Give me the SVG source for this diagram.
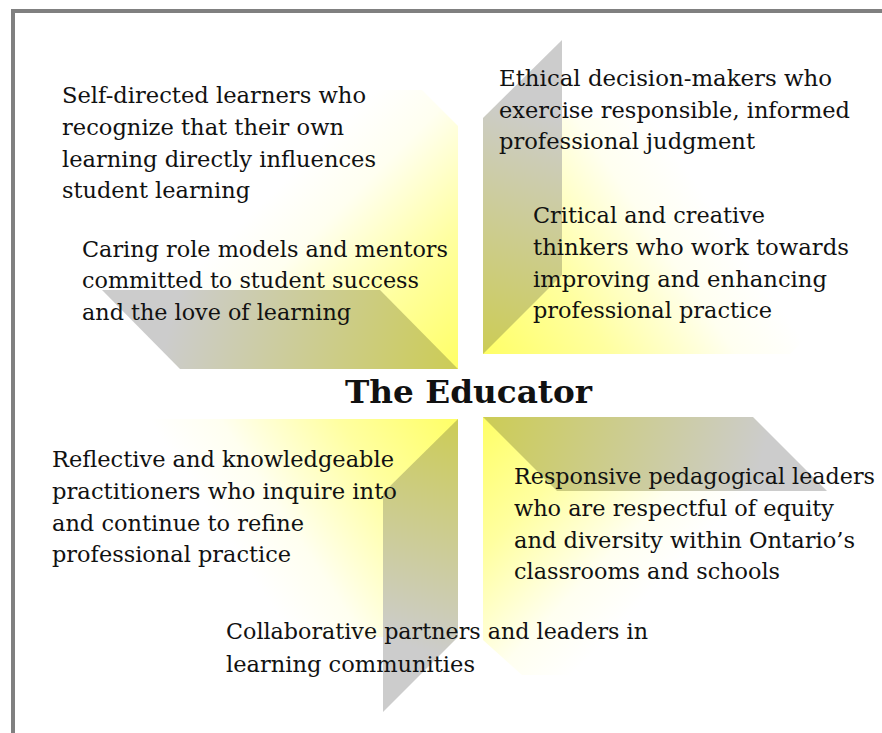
<svg xmlns="http://www.w3.org/2000/svg" width="882" height="733" viewBox="0 0 882 733">
<style>
.t{font-family:"DejaVu Serif","Liberation Serif",serif;font-size:22.4px;fill:#111}
.title{font-family:"DejaVu Serif","Liberation Serif",serif;font-size:31px;font-weight:bold;fill:#111}
.frame{fill:none;stroke:#808080;stroke-width:4}
.y0{stop-color:#ffff66}
.y1{stop-color:#ffffa0}
.y2{stop-color:#fffff0}
.y3{stop-color:#ffffff}
</style>
<defs>
<linearGradient id="yTL" gradientUnits="userSpaceOnUse" x1="458" y1="369" x2="180" y2="90"><stop offset="0" class="y0"/><stop offset="0.25" class="y1"/><stop offset="0.5" class="y2"/><stop offset="0.65" class="y3"/></linearGradient>
<linearGradient id="yTR" gradientUnits="userSpaceOnUse" x1="483" y1="354" x2="830" y2="118"><stop offset="0" class="y0"/><stop offset="0.25" class="y1"/><stop offset="0.5" class="y2"/><stop offset="0.65" class="y3"/></linearGradient>
<linearGradient id="yBR" gradientUnits="userSpaceOnUse" x1="483" y1="417" x2="753" y2="675"><stop offset="0" class="y0"/><stop offset="0.25" class="y1"/><stop offset="0.5" class="y2"/><stop offset="0.65" class="y3"/></linearGradient>
<linearGradient id="yBL" gradientUnits="userSpaceOnUse" x1="458" y1="419" x2="125" y2="637"><stop offset="0" class="y0"/><stop offset="0.25" class="y1"/><stop offset="0.5" class="y2"/><stop offset="0.65" class="y3"/></linearGradient>
<linearGradient id="pTL" gradientUnits="userSpaceOnUse" x1="180" y1="290" x2="458" y2="369"><stop offset="0" stop-color="#cccccc"/><stop offset="1" stop-color="#cccc55"/></linearGradient>
<linearGradient id="pTR" gradientUnits="userSpaceOnUse" x1="562" y1="118" x2="483" y2="354"><stop offset="0" stop-color="#cccccc"/><stop offset="1" stop-color="#cccc55"/></linearGradient>
<linearGradient id="pBR" gradientUnits="userSpaceOnUse" x1="753" y1="491" x2="483" y2="417"><stop offset="0" stop-color="#cccccc"/><stop offset="1" stop-color="#cccc55"/></linearGradient>
<linearGradient id="pBL" gradientUnits="userSpaceOnUse" x1="383" y1="637" x2="458" y2="419"><stop offset="0" stop-color="#cccccc"/><stop offset="1" stop-color="#cccc55"/></linearGradient>
</defs>
<rect width="882" height="733" fill="#ffffff"/>
<path class="frame" d="M13,733 V11 H882"/>
<g id="shapes">
<polygon points="180,90 422,90 458,126 458,369 180,369" fill="url(#yTL)"/>
<polygon points="102,290 380,290 458,369 180,369" fill="url(#pTL)"/>
<polygon points="483,118 830,118 830,314 790,354 483,354" fill="url(#yTR)"/>
<polygon points="483,118 562,40 562,275 483,354" fill="url(#pTR)"/>
<polygon points="483,417 753,417 753,675 522,675 483,640" fill="url(#yBR)"/>
<polygon points="483,417 753,417 827,491 557,491" fill="url(#pBR)"/>
<polygon points="148,419 458,419 458,637 125,637 125,442" fill="url(#yBL)"/>
<polygon points="458,419 458,637 383,712 383,493" fill="url(#pBL)"/>
</g>
<g id="connectors"/>
<g id="center">
<text class="title" x="345" y="403" textLength="247" lengthAdjust="spacingAndGlyphs">The Educator</text>
</g>
<g id="node-self-directed">
<text class="t" x="62" y="103" textLength="304" lengthAdjust="spacingAndGlyphs">Self-directed learners who</text>
<text class="t" x="62" y="135" textLength="282" lengthAdjust="spacingAndGlyphs">recognize that their own</text>
<text class="t" x="62" y="167" textLength="314" lengthAdjust="spacingAndGlyphs">learning directly influences</text>
<text class="t" x="62" y="198" textLength="188" lengthAdjust="spacingAndGlyphs">student learning</text>
</g>
<g id="node-caring">
<text class="t" x="82" y="257" textLength="366" lengthAdjust="spacingAndGlyphs">Caring role models and mentors</text>
<text class="t" x="82" y="288" textLength="337" lengthAdjust="spacingAndGlyphs">committed to student success</text>
<text class="t" x="82" y="320" textLength="269" lengthAdjust="spacingAndGlyphs">and the love of learning</text>
</g>
<g id="node-ethical">
<text class="t" x="499" y="86" textLength="333" lengthAdjust="spacingAndGlyphs">Ethical decision-makers who</text>
<text class="t" x="499" y="117.5" textLength="351" lengthAdjust="spacingAndGlyphs">exercise responsible, informed</text>
<text class="t" x="499" y="149" textLength="256" lengthAdjust="spacingAndGlyphs">professional judgment</text>
</g>
<g id="node-critical">
<text class="t" x="533" y="223" textLength="232" lengthAdjust="spacingAndGlyphs">Critical and creative</text>
<text class="t" x="533" y="255" textLength="316" lengthAdjust="spacingAndGlyphs">thinkers who work towards</text>
<text class="t" x="533" y="287" textLength="294" lengthAdjust="spacingAndGlyphs">improving and enhancing</text>
<text class="t" x="533" y="318" textLength="239" lengthAdjust="spacingAndGlyphs">professional practice</text>
</g>
<g id="node-reflective">
<text class="t" x="52" y="467" textLength="342" lengthAdjust="spacingAndGlyphs">Reflective and knowledgeable</text>
<text class="t" x="52" y="499" textLength="345" lengthAdjust="spacingAndGlyphs">practitioners who inquire into</text>
<text class="t" x="52" y="531" textLength="252" lengthAdjust="spacingAndGlyphs">and continue to refine</text>
<text class="t" x="52" y="562" textLength="239" lengthAdjust="spacingAndGlyphs">professional practice</text>
</g>
<g id="node-responsive">
<text class="t" x="514" y="484" textLength="361" lengthAdjust="spacingAndGlyphs">Responsive pedagogical leaders</text>
<text class="t" x="514" y="516" textLength="320" lengthAdjust="spacingAndGlyphs">who are respectful of equity</text>
<text class="t" x="514" y="548" textLength="341" lengthAdjust="spacingAndGlyphs">and diversity within Ontario’s</text>
<text class="t" x="514" y="579" textLength="266" lengthAdjust="spacingAndGlyphs">classrooms and schools</text>
</g>
<g id="node-collaborative">
<text class="t" x="226" y="639" textLength="422" lengthAdjust="spacingAndGlyphs">Collaborative partners and leaders in</text>
<text class="t" x="226" y="672" textLength="249" lengthAdjust="spacingAndGlyphs">learning communities</text>
</g>
</svg>
